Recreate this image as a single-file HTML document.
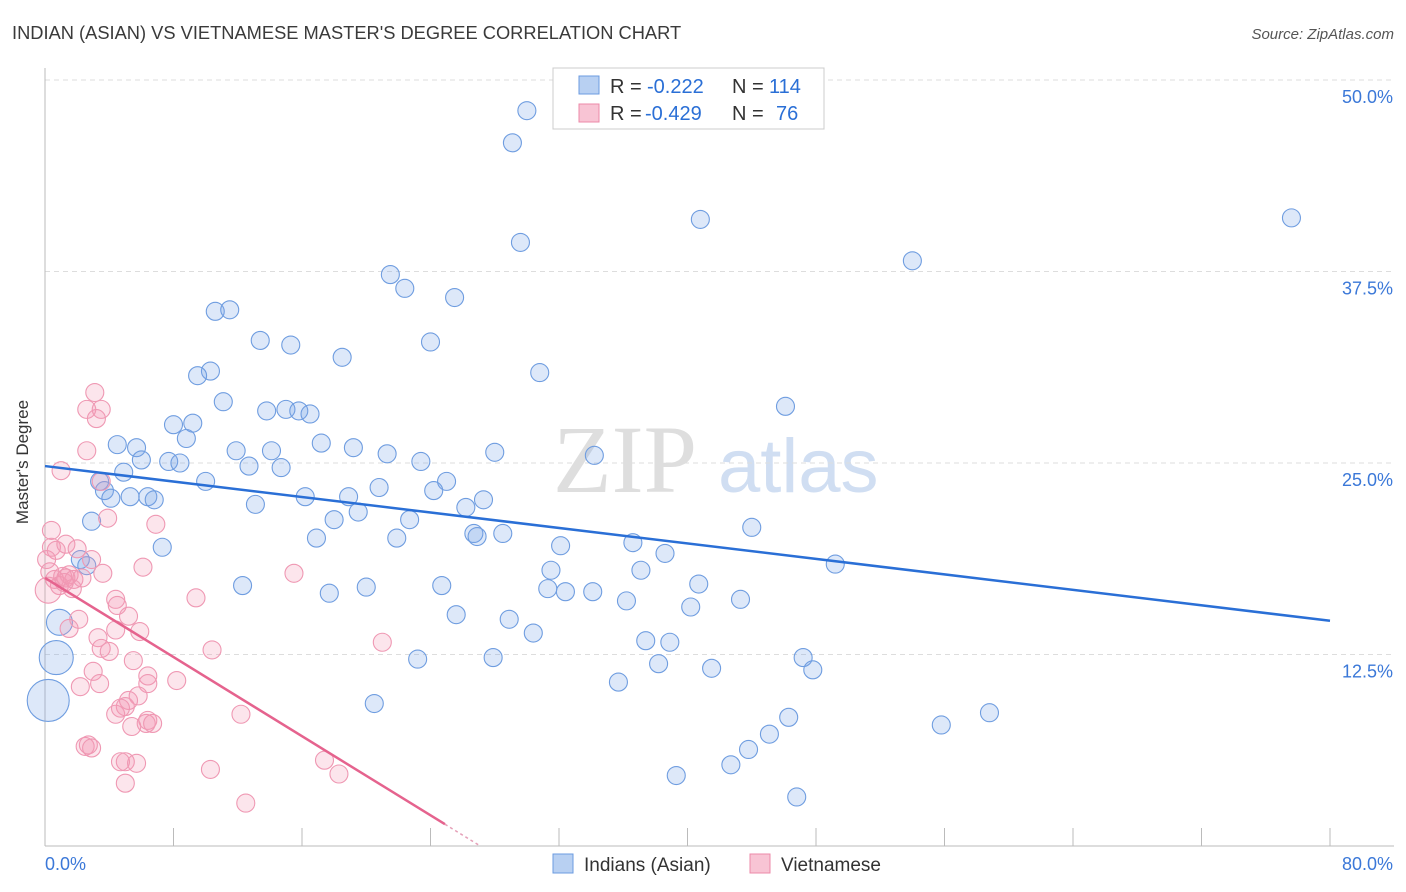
<!DOCTYPE html>
<html><head><meta charset="utf-8"><style>
body{margin:0;background:#fff;font-family:"Liberation Sans",sans-serif}
svg{display:block}
</style></head><body>
<svg id="chart" width="1406" height="892">
<text x="12" y="39" font-size="18.3" fill="#3a3a3a">INDIAN (ASIAN) VS VIETNAMESE MASTER'S DEGREE CORRELATION CHART</text>
<text x="1394" y="39" font-size="15" fill="#555" font-style="italic" text-anchor="end">Source: ZipAtlas.com</text>
<g>
<text x="553" y="492" font-size="96" fill="#dedede" font-family="Liberation Serif,serif">ZIP</text>
<text x="718" y="492" font-size="76" fill="#d0def2">atlas</text>
</g>
<g id="grid"></g>
<g id="axes"></g>
<g id="pts"></g>
<g id="lines"></g>
<text x="22" y="456" font-size="17" fill="#333" text-anchor="middle" transform="rotate(-90 28 456)">Master's Degree</text>
<g>
<rect x="553" y="68" width="271" height="61" fill="#fff" stroke="#ccc"/>
<rect x="579" y="76" width="20" height="18" fill="#b8d0f2" stroke="#6b9be0"/>
<rect x="579" y="104" width="20" height="18" fill="#f8c4d4" stroke="#ec8aa8"/>
<text x="610" y="93" font-size="20" fill="#333">R =</text>
<text x="647" y="93" font-size="20" fill="#2a6fd6">-0.222</text>
<text x="732" y="93" font-size="20" fill="#333">N =</text>
<text x="769" y="93" font-size="20" fill="#2a6fd6">114</text>
<text x="610" y="120" font-size="20" fill="#333">R =</text>
<text x="645" y="120" font-size="20" fill="#2a6fd6">-0.429</text>
<text x="732" y="120" font-size="20" fill="#333">N =</text>
<text x="776" y="120" font-size="20" fill="#2a6fd6">76</text>
</g>
<g>
<rect x="553" y="854" width="20" height="19" fill="#b8d0f2" stroke="#6b9be0"/>
<text x="584" y="871" font-size="19" fill="#333">Indians (Asian)</text>
<rect x="750" y="854" width="20" height="19" fill="#f8c4d4" stroke="#ec8aa8"/>
<text x="781" y="871" font-size="19" fill="#333">Vietnamese</text>
</g>
</svg>
<script>
const blueX=[30.0,29.1,40.8,77.6,29.6,54.0,21.5,22.4,25.5,10.6,11.5,13.4,15.3,24.0,18.5,30.8,10.3,9.5,46.1,11.1,13.8,15.0,15.8,16.5,8.0,9.2,8.8,4.5,5.7,17.2,11.9,14.1,19.2,6.0,7.7,8.4,21.3,28.0,34.2,12.7,14.7,23.4,4.9,3.4,10.0,25.0,3.7,4.1,5.3,6.4,6.8,16.2,18.9,20.8,24.2,27.3,26.2,13.1,19.5,18.0,22.7,2.9,44.0,26.7,26.9,28.5,16.9,21.9,32.1,36.6,7.3,38.6,2.2,2.6,49.2,31.5,37.1,12.3,20.0,24.7,40.7,17.7,31.3,32.4,34.1,36.2,43.3,40.2,25.6,28.9,30.4,37.4,38.9,0.9,0.7,23.2,27.9,38.2,41.5,47.2,47.8,35.7,0.2,20.5,58.8,46.3,55.8,45.1,43.8,42.7,39.3,46.8];
const blueY=[48.0,45.9,40.9,41.0,39.4,38.2,37.3,36.4,35.8,34.9,35.0,33.0,32.7,32.9,31.9,30.9,31.0,30.7,28.7,29.0,28.4,28.5,28.4,28.2,27.5,27.6,26.6,26.2,26.0,26.3,25.8,25.8,26.0,25.2,25.1,25.0,25.6,25.7,25.5,24.8,24.7,25.1,24.4,23.8,23.8,23.8,23.2,22.7,22.8,22.8,22.6,22.8,22.8,23.4,23.2,22.6,22.1,22.3,21.8,21.3,21.3,21.2,20.8,20.4,20.2,20.4,20.1,20.1,19.6,19.8,19.5,19.1,18.7,18.3,18.4,18.0,18.0,17.0,16.9,17.0,17.1,16.5,16.8,16.6,16.6,16.0,16.1,15.6,15.1,14.8,13.9,13.4,13.3,14.6,12.3,12.2,12.3,11.9,11.6,12.3,11.5,10.7,9.5,9.3,8.7,8.4,7.9,7.3,6.3,5.3,4.6,3.2];
const blueWeight={93:2,94:3,102:4};
const pinkX=[3.1,2.6,3.5,3.2,2.6,1.0,3.5,3.9,0.4,6.9,0.4,0.7,1.3,2.0,2.9,6.1,3.6,0.1,0.3,0.6,1.1,1.5,1.8,0.9,1.3,2.3,0.2,1.7,1.2,9.4,15.5,4.4,4.5,2.1,1.5,5.2,5.9,3.3,4.4,3.5,4.0,5.5,21.0,10.4,3.0,6.4,6.4,8.2,2.2,3.4,5.8,5.2,5.0,4.4,4.7,12.2,6.4,6.3,6.7,5.4,2.5,2.7,2.9,10.3,4.7,5.0,5.7,17.4,18.3,5.0,12.5];
const pinkY=[29.6,28.5,28.5,27.9,25.8,24.5,23.8,21.4,20.6,21.0,19.5,19.3,19.7,19.4,18.7,18.2,17.8,18.7,17.9,17.4,17.6,17.7,17.4,17.0,17.5,17.5,16.7,16.8,17.2,16.2,17.8,16.1,15.7,14.8,14.2,15.0,14.0,13.6,14.1,12.9,12.7,12.1,13.3,12.8,11.4,11.1,10.6,10.8,10.4,10.6,9.8,9.5,9.1,8.6,9.0,8.6,8.2,8.0,8.0,7.8,6.5,6.6,6.4,5.0,5.5,5.5,5.4,5.6,4.7,4.1,2.8];
const pinkWeight={26:2};
const blueTrend=[24.8,14.7];
const pinkTrend=[17.5,0];
const yTicks=[12.5,25.0,37.5,50.0];
const xTickCount=10;
const NS='http://www.w3.org/2000/svg';
const X=v=>45+v*1285/80, Y=v=>846-v*766/50;
function el(t,a,p){const e=document.createElementNS(NS,t);for(const k in a)e.setAttribute(k,a[k]);document.getElementById(p).appendChild(e);return e;}
yTicks.forEach(t=>{
 const g=el('line',{x1:45,x2:1394,y1:Y(t),y2:Y(t),stroke:'#ddd','stroke-dasharray':'5,4'},'grid');
 
 
 const l=el('text',{x:1393,y:Y(t)+23,'font-size':18,fill:'#3b78d8','text-anchor':'end'},'axes');
 l.textContent=t.toFixed(1)+'%';
 
 
});
const ax=el('line',{x1:45,x2:45,y1:68,y2:846,stroke:'#bbb'},'axes');


const bx=el('line',{x1:45,x2:1394,y1:846,y2:846,stroke:'#bbb'},'axes');


for(let i=1;i<=xTickCount;i++){const tk=el('line',{x1:X(i*8),x2:X(i*8),y1:828,y2:846,stroke:'#bbb'},'axes');
 
 }
const x0=el('text',{x:45,y:870,'font-size':18,fill:'#3b78d8'},'axes');x0.textContent='0.0%';


const x1=el('text',{x:1393,y:870,'font-size':18,fill:'#3b78d8','text-anchor':'end'},'axes');x1.textContent='80.0%';


const rad=w=>[0,9,13,17,21][w];
blueX.forEach((v,i)=>{const c=el('circle',{cx:X(v),cy:Y(blueY[i]),r:rad(blueWeight[i]||1),fill:'rgba(120,165,230,0.25)',stroke:'#6f9de0','stroke-width':1.1},'pts');
 
 });
pinkX.forEach((v,i)=>{const c=el('circle',{cx:X(v),cy:Y(pinkY[i]),r:rad(pinkWeight[i]||1),fill:'rgba(245,150,180,0.25)',stroke:'#ef98b3','stroke-width':1.1},'pts');
 
 });
const bl=el('line',{x1:X(0),y1:Y(blueTrend[0]),x2:X(80),y2:Y(blueTrend[1]),stroke:'#2a6fd6','stroke-width':2.5},'lines');


const xEnd=27.1, xSolid=24.9;
const py=x=>pinkTrend[0]+(pinkTrend[1]-pinkTrend[0])*x/xEnd;
const pl=el('line',{x1:X(0),y1:Y(py(0)),x2:X(xSolid),y2:Y(py(xSolid)),stroke:'#e5638e','stroke-width':2.5},'lines');


const pd=el('line',{x1:X(xSolid),y1:Y(py(xSolid)),x2:X(xEnd),y2:Y(0),stroke:'#e5a0b8','stroke-width':1.5,'stroke-dasharray':'3,3'},'lines');


</script>
</body></html>
